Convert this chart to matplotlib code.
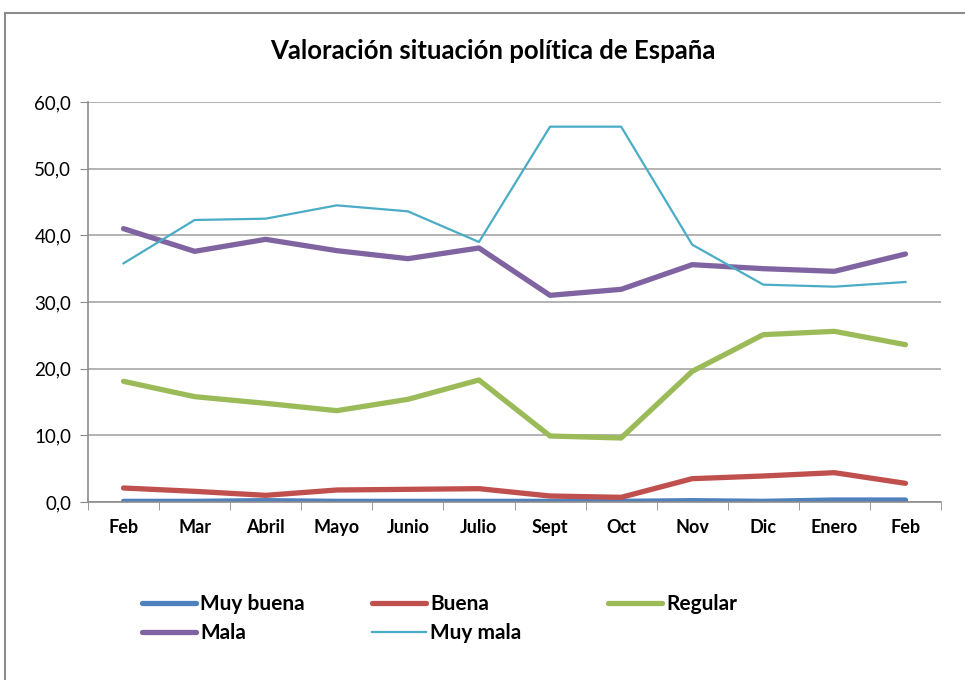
import matplotlib.pyplot as plt
from matplotlib.patches import Rectangle

# Data
meses = ["Feb", "Mar", "Abril", "Mayo", "Junio", "Julio", "Sept", "Oct",
         "Nov", "Dic", "Enero", "Feb"]
muy_buena = [0.1, 0.1, 0.2, 0.1, 0.1, 0.1, 0.1, 0.1, 0.2, 0.1, 0.3, 0.3]
buena = [2.1, 1.6, 1.0, 1.8, 1.9, 2.0, 0.9, 0.7, 3.5, 3.9, 4.4, 2.8]
regular = [18.1, 15.8, 14.8, 13.7, 15.4, 18.3, 9.9, 9.6, 19.6, 25.1, 25.6, 23.6]
mala = [41.0, 37.6, 39.4, 37.7, 36.5, 38.1, 31.0, 31.9, 35.6, 35.0, 34.6, 37.2]
muy_mala = [35.8, 42.3, 42.5, 44.5, 43.6, 39.0, 56.3, 56.3, 38.6, 32.6, 32.3, 33.0]
y_ticks = [0, 10, 20, 30, 40, 50, 60]

plt.rcParams['font.family'] = ['Lato', 'DejaVu Sans']

fig = plt.figure(figsize=(9.65, 6.8), dpi=100)
fig.patches.append(Rectangle((5 / 965, -0.1), 1.2, 1.1 - 13 / 680,
                             transform=fig.transFigure, fill=False,
                             edgecolor="#8c8c8c", linewidth=1.5))

ax = fig.add_axes([88 / 965, 178 / 680, 853 / 965, 400 / 680])
x = list(range(len(meses)))

thick = 3.8
l1, = ax.plot(x, muy_buena, color="#4F81BD", lw=thick, solid_capstyle="round", label="Muy buena")
l2, = ax.plot(x, buena, color="#C0504D", lw=thick, solid_capstyle="round", label="Buena")
l3, = ax.plot(x, regular, color="#9BBB59", lw=thick, solid_capstyle="round", label="Regular")
l4, = ax.plot(x, mala, color="#8064A2", lw=thick, solid_capstyle="round", label="Mala")
l5, = ax.plot(x, muy_mala, color="#4BACC6", lw=1.6, label="Muy mala")

ax.set_xlim(-0.5, len(meses) - 0.5)
ax.set_ylim(0, 60)
ax.set_yticks(y_ticks)
ax.set_yticklabels([f"{v:.1f}".replace(".", ",") for v in y_ticks], fontsize=13.5)
ax.grid(axis="y", color="#a6a6a6", linewidth=1.2)
ax.set_axisbelow(True)

ax.set_xticks(x)
ax.set_xticklabels(meses, fontsize=13, fontweight="bold")
ax.set_xticks([i - 0.5 for i in range(len(meses) + 1)], minor=True)
ax.tick_params(axis="x", which="major", length=0, pad=12)
ax.tick_params(axis="x", which="minor", length=6, color="#8c8c8c", direction="out")
ax.tick_params(axis="y", length=6, color="#8c8c8c", pad=6)

for s in ["top", "right"]:
    ax.spines[s].set_visible(False)
for s in ["left", "bottom"]:
    ax.spines[s].set_color("#8c8c8c")
    ax.spines[s].set_linewidth(1.2)

fig.text(493 / 965, 1 - 51 / 680, "Valoración situación política de España",
         ha="center", va="center", fontsize=18.5, fontweight="bold")

# legend built column by column so the layout matches row-wise order
cols = [([l1, l4], 142), ([l2, l5], 372), ([l3], 608)]
for handles, px in cols:
    leg = fig.legend(handles=handles, loc="upper left",
                     bbox_to_anchor=(px / 965, 1 - 594 / 680),
                     frameon=False, fontsize=15, handlelength=2.6,
                     handletextpad=0.2, labelspacing=0.45, borderpad=0,
                     borderaxespad=0)
    for t in leg.get_texts():
        t.set_fontweight("bold")

fig.savefig("out.png", dpi=100)
